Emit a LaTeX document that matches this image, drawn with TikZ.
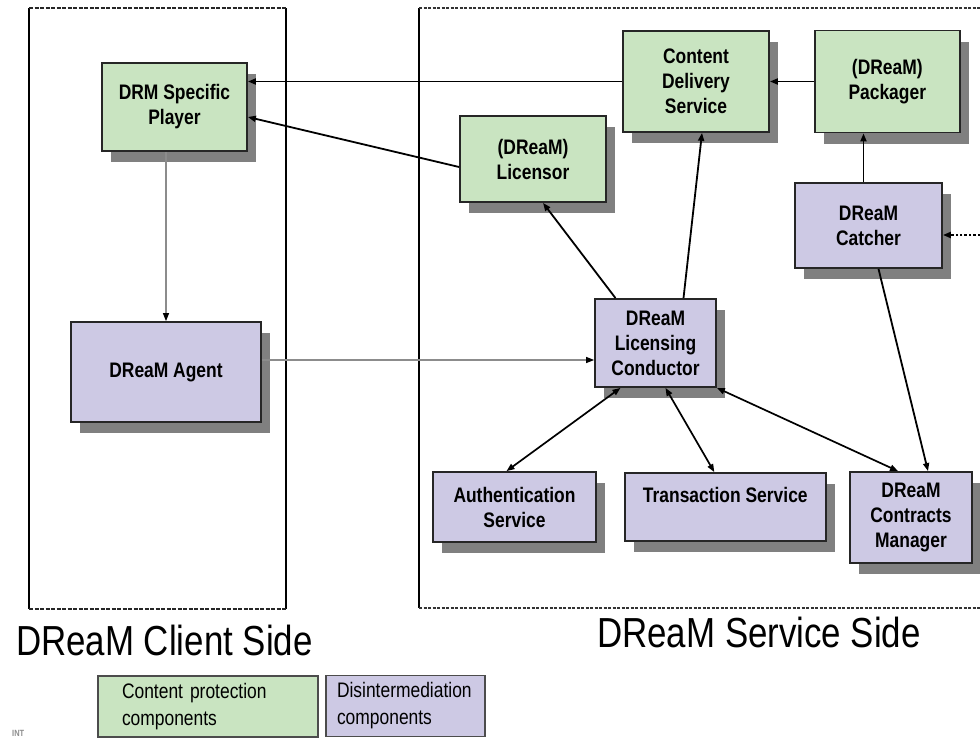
\documentclass[tikz,border=0pt]{standalone}
\usepackage{fontspec}
\setmainfont{Liberation Sans}[FakeStretch=0.83]
\usepackage{tikz}
\usetikzlibrary{positioning,calc,arrows.meta,shadows}
\definecolor{protgreen}{RGB}{201,228,193}
\definecolor{disipurple}{RGB}{205,201,228}
\definecolor{shadowgray}{RGB}{128,128,128}
\tikzset{
	>={Triangle[length=8pt,width=6pt]},
	dedge/.style={arrows=->, black, line width=1.8pt},
	bedge/.style={arrows=<->, black, line width=1.7pt},
	gedge/.style={arrows={-Triangle[length=8pt,width=6pt,black]}, draw=black!45, line width=1.2pt},
	fedge/.style={arrows=->, black, dotted, line width=2.4pt},
	frame/.style={black, line width=2pt},
	fdash/.style={black!85, line width=2.4pt, dash pattern=on 4pt off 1.5pt},
	fdashthin/.style={black!80, line width=1.4pt, dash pattern=on 3pt off 1.5pt},
}
\tikzstyle{nbox} = [rectangle, draw=black!85, line width=1.8pt, inner sep=0pt, align=center, font=\fontsize{21}{25}\selectfont\bfseries, drop shadow={shadow xshift=9pt, shadow yshift=-11pt, fill=shadowgray, opacity=1}]
\tikzstyle{pbox} = [nbox, fill=protgreen]
\tikzstyle{dbox} = [nbox, fill=disipurple]
\tikzstyle{lgd} = [rectangle, draw=black!70, line width=1.4pt, minimum height=61pt, align=left, font=\fontsize{21}{27}\selectfont]
\tikzstyle{sidelbl} = [anchor=base west, inner sep=0pt, font=\fontsize{42}{48}\selectfont]

\begin{document}
\begin{tikzpicture}[x=1pt, y=-1pt]
	\useasboundingbox (0,0) rectangle (980,739);
	
	\draw[frame] (29,8) -- (29,609);
	\draw[frame] (286,8) -- (286,609);
	\draw[fdash] (29,8) -- (286,8);
	\draw[fdash] (29,609) -- (286,609);
	\draw[frame] (419,8) -- (419,608);
	\draw[fdashthin] (419,8) -- (980,8);
	\draw[fdashthin] (419,608) -- (980,608);
	
	\node[pbox, minimum width=145pt, minimum height=88pt] (player) at (174.5,107) {DRM Specific\\Player};
	\node[dbox, minimum width=190pt, minimum height=100pt] (agent) at (166,372) {DReaM Agent};
	
	\node[pbox, minimum width=146pt, minimum height=101pt] (cds) at (696,81.5) {Content\\Delivery\\Service};
	\node[pbox, minimum width=145pt, minimum height=102pt] (pkg) [right=44pt of cds] {(DReaM)\\Packager};
	\node[pbox, minimum width=146pt, minimum height=86pt] (lic) at (533,159) {(DReaM)\\Licensor};
	\node[dbox, minimum width=147pt, minimum height=85pt] (catch) at (868.5,225.5) {DReaM\\Catcher};
	\node[dbox, minimum width=121pt, minimum height=88pt] (cond) at (655.5,343) {DReaM\\Licensing\\Conductor};
	
	\node[dbox, minimum width=163pt, minimum height=70pt] (auth) at (514.5,507) {Authentication\\Service};
	\node[dbox, minimum width=201pt, minimum height=68pt] (trans) [right=27pt of auth] {Transaction Service\\\mbox{}};
	\node[dbox, minimum width=122pt, minimum height=91pt] (contr) at (911,517.5) {DReaM\\Contracts\\Manager};
	
	\path (cds.west) edge [dedge] (cds.west -| player.east);
	\draw[dedge] ([yshift=-8pt]lic.west) -- ([yshift=-10pt]player.east);
	\draw[gedge] (player.south -| agent.north) -- (agent.north);
	\coordinate (condin) at ([yshift=-17pt]cond.west);
	\draw[gedge] (condin -| agent.east) -- (condin);
	
	\draw[dedge] ([xshift=-40pt]cond.north) -- ([xshift=10pt]lic.south);
	\draw[dedge] ([xshift=28pt]cond.north) -- ([xshift=6pt]cds.south);
	\path (pkg.west) edge [dedge] (pkg.west -| cds.east);
	\draw[dedge] ([xshift=-5pt]catch.north) -- ([xshift=-5pt]catch.north |- pkg.south);
	\coordinate (feed) at (980,235);
	\draw[fedge] (feed) -- (feed -| catch.east);
	
	\draw[bedge] ([xshift=-35pt]cond.south) -- ([xshift=-8pt]auth.north);
	\draw[bedge] ([xshift=10pt]cond.south) -- ([xshift=-11pt]trans.north);
	\draw[bedge] (cond.south east) -- ([xshift=-13pt]contr.north);
	\draw[dedge] ([xshift=10pt]catch.south) -- ([xshift=17pt]contr.north);
	
	\node[sidelbl] (clientlbl) at (16,655) {DReaM Client Side};
	\node[sidelbl] (servicelbl) at (597,647) {DReaM Service Side};
	
	\node[lgd, fill=protgreen, inner xsep=24pt, text width=172pt] (lgdprot) at (208,706.5) {Content protection\\components};
	\node[lgd, fill=disipurple, inner xsep=11pt, text width=137pt] (lgddisi) at (405.5,706) {Disintermediation\\components};
	\node[anchor=base west, inner sep=0pt, text=black!45, font=\fontsize{9}{9}\selectfont\bfseries] (logo) at (12,736) {INT};
\end{tikzpicture}
\end{document}
